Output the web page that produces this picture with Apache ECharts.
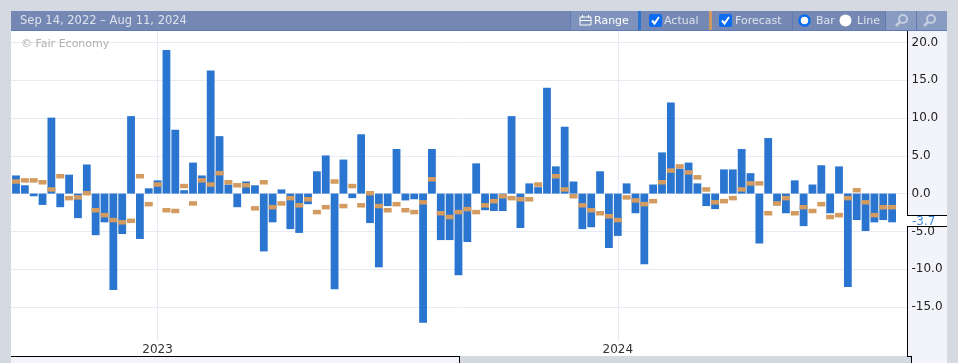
<!DOCTYPE html>
<html>
<head>
<meta charset="utf-8">
<title>Actual vs Forecast</title>
<script src="https://cdn.jsdelivr.net/npm/echarts@6/dist/echarts.min.js"></script>
<style>
html, body { margin: 0; padding: 0; background: #d5d9e2; }
#chart { width: 958px; height: 363px; }
</style>
</head>
<body>
<div id="chart"></div>
<script>
var rangeLabel = 'Sep 14, 2022 \u2013 Aug 11, 2024';

var actual = [
    2.4, 1.1, -0.35, -1.5, 10.05, -1.8, 2.5, -3.25, 3.85, -5.5,
    -3.8, -12.75, -5.35, 10.25, -6.0, 0.7, 1.75, 19.0, 8.45, 0.45,
    4.1, 2.4, 16.3, 7.6, 1.2, -1.8, 1.6, 1.1, -7.65, -3.8,
    0.55, -4.7, -5.2, -1.4, 2.95, 5.05, -12.65, 4.5, -0.6, 7.85,
    -3.9, -9.75, -1.65, 5.9, -0.9, -0.75, -17.1, 5.9, -6.15, -6.15,
    -10.8, -6.4, 4.0, -2.2, -2.3, -2.3, 10.25, -4.55, 1.35, 0.85,
    14.0, 3.6, 8.85, 1.6, -4.7, -4.45, 2.95, -7.2, -5.6, 1.35,
    -2.6, -9.35, 1.2, 5.45, 12.05, 3.3, 4.1, 1.35, -1.65, -2.05,
    3.2, 3.2, 5.9, 2.7, -6.6, 7.35, -1.55, -2.6, 1.75, -4.3,
    1.2, 3.75, -2.6, 3.6, -12.35, -3.5, -4.95, -3.8, -3.5, -3.8
];
var forecast = [
    1.6, 1.75, 1.75, 1.5, 0.55, 2.3, -0.6, -0.5, 0.05, -2.2,
    -2.85, -3.5, -3.8, -3.6, 2.3, -1.4, 1.2, -2.2, -2.3, 1.0,
    -1.3, 1.75, 1.2, 2.7, 1.5, 1.1, 1.1, -1.95, 1.5, -1.8,
    -1.3, -0.6, -1.55, -0.75, -2.45, -1.8, 1.6, -1.65, 1.0, -1.55,
    0.05, -1.65, -2.2, -1.4, -2.2, -2.45, -1.15, 1.9, -2.6, -3.1,
    -2.45, -2.05, -2.45, -1.55, -1.0, -0.35, -0.6, -0.75, -0.75, 1.2,
    null, 2.3, 0.55, -0.35, -1.55, -2.2, -2.6, -3.0, -3.5, -0.5,
    -0.9, -1.4, -1.0, 1.5, 3.05, 3.6, 2.8, 2.15, 0.55, -1.15,
    -1.0, -0.6, 0.55, 1.35, 1.35, -2.6, -1.3, -0.6, -2.6, -1.8,
    -2.3, -1.4, -3.1, -2.85, -0.6, 0.45, -1.15, -2.85, -1.8, -1.8
];
var yTicks = [-15, -10, -5, 0, 5, 10, 15, 20];
// week index (from Sep 11, 2022) where each year starts
var yearWeeks = [16, 68];
var yearLabels = ['2023', '2024'];
var latestValue = -3.7;

function toPairs(list) {
    return list.map(function (v, i) {
        return [i, v];
    });
}

function rect(x, y, w, h, fill, z) {
    return { type: 'rect', shape: { x: x, y: y, width: w, height: h }, style: { fill: fill }, z: z || 5, silent: true };
}

function label(x, y, text, color, size, z) {
    return {
        type: 'text', x: x, y: y, z: z || 6, silent: true,
        style: {
            text: text, fill: color, font: (size || 11) + 'px "DejaVu Sans"',
            verticalAlign: 'middle', align: 'left'
        }
    };
}

function checkbox(x) {
    return [
        { type: 'rect', shape: { x: x, y: 14, width: 13, height: 13, r: 2 }, style: { fill: '#0a6cf0' }, z: 6, silent: true },
        { type: 'polyline', shape: { points: [[x + 3, 20.5], [x + 5.5, 23.5], [x + 10, 17]] }, style: { stroke: '#fff', lineWidth: 2, fill: null }, z: 7, silent: true }
    ];
}

function magnifier(cx, cy) {
    return [
        { type: 'circle', shape: { cx: cx, cy: cy, r: 4 }, style: { stroke: '#c3cde0', lineWidth: 2, fill: null }, z: 7, silent: true },
        { type: 'line', shape: { x1: cx - 3, y1: cy + 3, x2: cx - 7, y2: cy + 7 }, style: { stroke: '#c3cde0', lineWidth: 2.5 }, z: 7, silent: true }
    ];
}

var chrome = [
    // right scale panel and bottom strip
    rect(908, 31, 39, 332, '#f3f4f9', -1),
    rect(11, 356, 449, 7, '#f3f4f9', 5),
    rect(460, 356, 451, 7, '#d5d9e2', 5),
    rect(11, 356, 448, 1, '#000', 6),
    rect(459, 356, 1, 7, '#000', 6),
    rect(907, 356, 5, 1, '#000', 6),
    rect(911, 356, 1, 7, '#000', 6),
    // header
    rect(11, 11, 936, 19, '#7488b3'),
    rect(11, 30, 936, 1, '#5f7bb3'),
    rect(570, 11, 68, 19, '#7f92bb'),
    rect(570, 11, 1, 19, '#5f7bb3'),
    rect(638, 11, 3, 19, '#2b74cf'),
    rect(709, 11, 3, 19, '#cf9a5f'),
    rect(792, 11, 1, 19, '#5f7bb3'),
    rect(885, 11, 62, 19, '#8a9bc2'),
    rect(885, 11, 1, 19, '#5f7bb3'),
    rect(916, 11, 1, 19, '#5f7bb3'),
    label(20, 21, rangeLabel, '#dde2ec', 11.5),
    // range calendar icon
    { type: 'rect', shape: { x: 580, y: 17, width: 11, height: 8 }, style: { stroke: '#fff', fill: null, lineWidth: 1 }, z: 6, silent: true },
    rect(580, 20, 11, 1, '#fff', 7),
    rect(582, 15, 1, 3, '#fff', 7),
    rect(588, 15, 1, 3, '#fff', 7),
    label(594, 21, 'Range', '#fff'),
    label(664, 21, 'Actual', '#dde2ec'),
    label(735, 21, 'Forecast', '#dde2ec'),
    { type: 'circle', shape: { cx: 804.5, cy: 20.5, r: 5 }, style: { stroke: '#0a6cf0', lineWidth: 2.5, fill: '#fff' }, z: 6, silent: true },
    label(816, 21, 'Bar', '#dde2ec'),
    { type: 'circle', shape: { cx: 845.5, cy: 20.5, r: 6 }, style: { fill: '#fff' }, z: 6, silent: true },
    label(857, 21, 'Line', '#dde2ec'),
    label(21, 44.5, '\u00a9 Fair Economy', '#b0b0b0', 11)
].concat(checkbox(649), checkbox(719), magnifier(903, 19), magnifier(931, 19));

var chart = echarts.init(document.getElementById('chart'), null, { renderer: 'canvas' });

chart.setOption({
    animation: false,
    backgroundColor: '#d5d9e2',
    grid: { show: true, backgroundColor: '#fff', borderWidth: 0, left: 11, right: 50.5, top: 31, bottom: 6.5 },
    xAxis: {
        type: 'value',
        min: -0.565,
        max: 100.74,
        axisLine: { show: false },
        axisTick: { show: false, customValues: yearWeeks },
        splitLine: { show: true, lineStyle: { color: '#e8eaf3', width: 1 } },
        axisLabel: {
            inside: true,
            customValues: yearWeeks,
            margin: 1,
            color: '#333',
            fontFamily: 'DejaVu Sans',
            fontSize: 12,
            backgroundColor: '#fff',
            padding: [2, 0, 0, 0],
            formatter: function (value) {
                return yearLabels[yearWeeks.indexOf(value)];
            }
        }
    },
    yAxis: {
        type: 'value',
        position: 'right',
        min: -21.55,
        max: 21.51,
        axisLine: { show: true, onZero: false, lineStyle: { color: '#000', width: 1 } },
        axisTick: { show: false, customValues: yTicks },
        splitLine: { show: true, lineStyle: { color: '#e8eaf3', width: 1 } },
        axisLabel: {
            customValues: yTicks,
            margin: 4,
            color: '#222',
            fontFamily: 'DejaVu Sans',
            fontSize: 12,
            formatter: function (v) {
                return v.toFixed(1);
            }
        }
    },
    series: [
        {
            name: 'Actual',
            type: 'bar',
            barWidth: 7.8,
            itemStyle: { color: '#2a75cf' },
            data: toPairs(actual),
            z: 2
        },
        {
            name: 'Forecast',
            type: 'scatter',
            symbol: 'rect',
            symbolSize: [8, 4.5],
            itemStyle: { color: '#d39b5f', opacity: 1 },
            data: toPairs(forecast).filter(function (p) { return p[1] !== null; }),
            z: 3
        }
    ],
    graphic: chrome
});

// latest value flag sits on the price scale
var flagY = Math.floor(chart.convertToPixel({ yAxisIndex: 0 }, latestValue));
chart.setOption({
    graphic: chrome.concat([
        rect(907, flagY - 6, 40, 11, '#fff', 20),
        rect(907, flagY - 6, 40, 1, '#000', 21),
        rect(907, flagY + 5, 40, 1, '#000', 21),
        label(912, flagY + 0.5, latestValue.toFixed(1), '#3a86e0', 12, 22)
    ])
});
</script>
</body>
</html>
